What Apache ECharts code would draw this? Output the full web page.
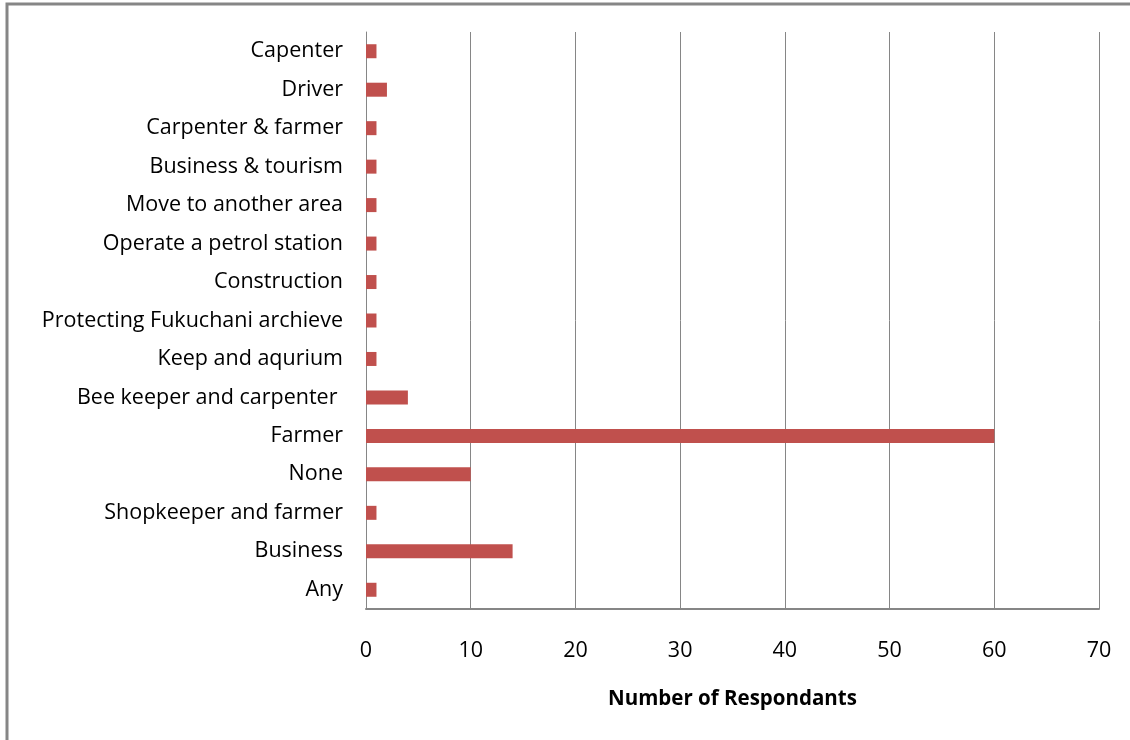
<!DOCTYPE html>
<html><head><meta charset="utf-8">
<script src="https://cdn.jsdelivr.net/npm/echarts@6/dist/echarts.min.js"></script>
<style>html,body{margin:0;padding:0;background:#fff}#c{width:1130px;height:740px}</style>
</head><body><div id="c"></div>
<script>
const categories = ["Any","Business","Shopkeeper and farmer","None","Farmer","Bee keeper and carpenter ","Keep and aqurium","Protecting Fukuchani archieve","Construction","Operate a petrol station","Move to another area","Business & tourism","Carpenter & farmer","Driver","Capenter"];
const respondents = [1,14,1,10,60,4,1,1,1,1,1,1,1,2,1];
const xTicks = [0,10,20,30,40,50,60,70];

const chart = echarts.init(document.getElementById('c'), null, {renderer:'canvas'});
chart.setOption({
  animation:false,
  backgroundColor:'#fff',
  graphic:[{type:'rect',shape:{x:7,y:4,width:1140,height:760},style:{fill:'none',stroke:'#868686',lineWidth:3},silent:true}],
  grid:{left:366,right:31,top:32,bottom:131,containLabel:false},
  xAxis:{type:'value',min:0,max:70,interval:10,
    name:'Number of Respondants',nameLocation:'middle',nameGap:80,
    nameTextStyle:{fontFamily:'Open Sans',fontSize:20.5,fontWeight:'bold',color:'#000'},
    axisLine:{show:true,lineStyle:{color:'#868686',width:2}},
    axisTick:{show:false},
    axisLabel:{margin:31,fontFamily:'Open Sans',fontSize:21.5,color:'#000',formatter:v=>xTicks.includes(v)?String(v):''},
    splitLine:{show:true,lineStyle:{color:'#868686',width:1}}
  },
  yAxis:{type:'category',data:categories,
    axisLine:{show:true,lineStyle:{color:'#868686',width:1}},
    axisTick:{show:false},
    axisLabel:{margin:23,fontFamily:'Open Sans',fontSize:21.5,color:'#000'}
  },
  series:[{type:'bar',data:respondents,barWidth:14,itemStyle:{color:'#C0504D'}}]
});
</script></body></html>
